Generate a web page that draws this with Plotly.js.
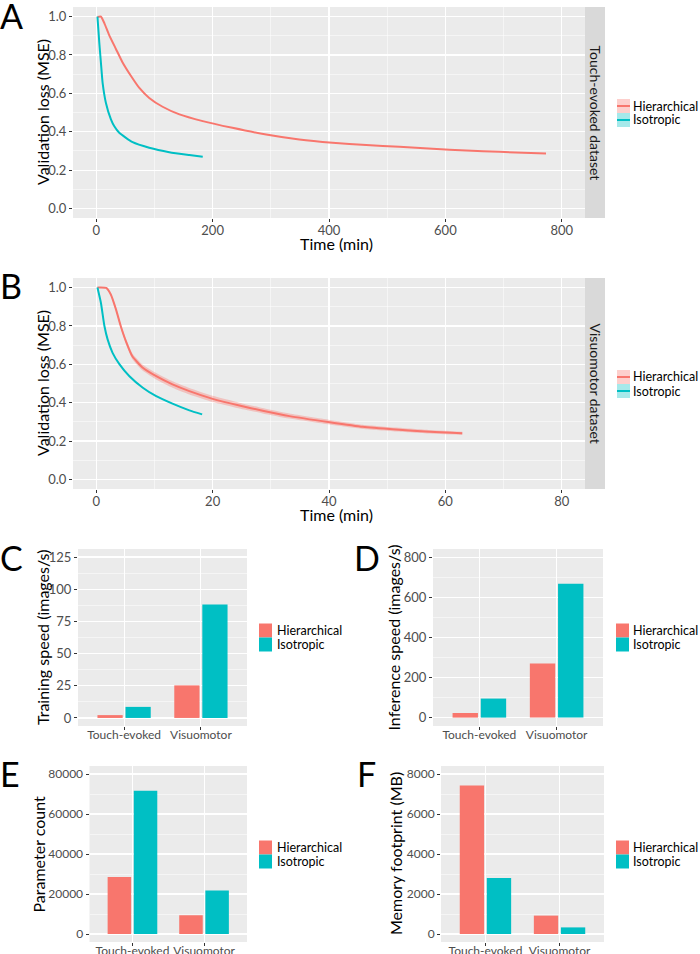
<!DOCTYPE html>
<html><head><meta charset="utf-8">
<script src="https://cdn.plot.ly/plotly-3.0.1.min.js"></script>
<style>html,body{margin:0;padding:0;background:#fff}#chart{width:700px;height:954px}</style>
</head><body><div id="chart"></div>
<script>
// ---------- data ----------
const seriesNames = ['Hierarchical', 'Isotropic'];
const seriesColors = ['#F8766D', '#00BFC4'];
const ribbonColors = ['rgba(248,118,109,0.35)', 'rgba(0,191,196,0.35)'];

// Panel A: touch-evoked dataset, time in minutes
const hierA_t = [2, 8, 14, 22, 34, 45, 60, 74, 91, 114, 143, 183, 234, 292, 349, 406, 464, 521, 578, 636, 693, 773];
const hierA_v = [0.998, 1.0, 0.965, 0.905, 0.83, 0.762, 0.689, 0.628, 0.576, 0.53, 0.49, 0.455, 0.42, 0.385, 0.359, 0.342, 0.33, 0.321, 0.311, 0.302, 0.295, 0.286];
const isoA_t = [2, 5.2, 8, 10.9, 16.6, 25.2, 31, 39.5, 62.5, 91, 125.5, 160, 183];
const isoA_v = [1.0, 0.863, 0.759, 0.655, 0.55, 0.464, 0.428, 0.394, 0.345, 0.316, 0.293, 0.278, 0.269];

// Panel B: visuomotor dataset
const hierB_t = [0.2, 1.7, 2.5, 3.4, 4.2, 5.1, 6.2, 8.0, 10.3, 13.1, 16.0, 20, 24.6, 28.6, 33.2, 40.1, 45.8, 51.5, 57.3, 62.9];
const hierB_v = [1.0, 0.998, 0.964, 0.885, 0.80, 0.72, 0.642, 0.582, 0.538, 0.495, 0.46, 0.42, 0.385, 0.358, 0.33, 0.298, 0.274, 0.26, 0.248, 0.24];
const hierB_sd = [0.002, 0.003, 0.006, 0.009, 0.011, 0.013, 0.015, 0.016, 0.017, 0.017, 0.017, 0.016, 0.015, 0.014, 0.013, 0.012, 0.011, 0.01, 0.009, 0.008];
const isoB_t = [0.2, 0.8, 1.4, 1.95, 2.8, 4.0, 5.7, 8.0, 10.3, 13.1, 16, 18.2];
const isoB_v = [1.0, 0.92, 0.80, 0.73, 0.66, 0.60, 0.538, 0.478, 0.434, 0.395, 0.36, 0.339];

// Bar panels
const datasets = ['Touch-evoked', 'Visuomotor'];
const trainSpeed_hier = [2.2, 25.3];
const trainSpeed_iso = [8.6, 88.2];
const inferSpeed_hier = [23, 270];
const inferSpeed_iso = [95, 669];
const paramCount_hier = [28500, 9400];
const paramCount_iso = [71600, 21800];
const memory_hier = [7430, 920];
const memory_iso = [2800, 330];

const stripLabels = ['Touch-evoked dataset', 'Visuomotor dataset'];
const panelLetters = ['A', 'B', 'C', 'D', 'E', 'F'];
const xTitles = ['Time (min)', 'Time (min)'];
const yTitles = ['Validation loss (MSE)', 'Validation loss (MSE)', 'Training speed (images/s)',
  'Inference speed (images/s)', 'Parameter count', 'Memory footprint (MB)'];

// ---------- helpers ----------
const W = 700, H = 954;
const X = px => px / W;
const Y = py => 1 - py / H;
const FONT = 'Lato';

function axis(extra) {
  return Object.assign({
    showgrid: true, gridcolor: '#ffffff', gridwidth: 1.1,
    zeroline: false, showline: false,
    ticks: 'outside', ticklen: 3, tickwidth: 1, tickcolor: '#333333',
    tickfont: {family: FONT, size: 13, color: '#4d4d4d'},
    fixedrange: true
  }, extra);
}
function minor(d) {
  return {dtick: d, showgrid: true, gridcolor: '#ffffff', gridwidth: 0.5, ticks: ''};
}
const smallTick = {family: FONT, size: 12, color: '#4d4d4d'};

const traces = [];
function lineTrace(t, v, i, xa, ya) {
  traces.push({type: 'scatter', mode: 'lines', x: t, y: v, xaxis: xa, yaxis: ya,
    line: {color: seriesColors[i], width: 2, shape: 'spline', smoothing: 0.5},
    name: seriesNames[i], showlegend: false, hoverinfo: 'skip'});
}
// ribbon B hierarchical
traces.push({type: 'scatter', mode: 'lines', x: hierB_t, y: hierB_v.map((v, k) => v + hierB_sd[k]),
  xaxis: 'x2', yaxis: 'y2', line: {width: 0, shape: 'spline', smoothing: 0.5}, showlegend: false, hoverinfo: 'skip'});
traces.push({type: 'scatter', mode: 'lines', x: hierB_t, y: hierB_v.map((v, k) => v - hierB_sd[k]),
  xaxis: 'x2', yaxis: 'y2', line: {width: 0, shape: 'spline', smoothing: 0.5}, fill: 'tonexty',
  fillcolor: ribbonColors[0], showlegend: false, hoverinfo: 'skip'});

lineTrace(hierA_t, hierA_v, 0, 'x', 'y');
lineTrace(isoA_t, isoA_v, 1, 'x', 'y');
lineTrace(hierB_t, hierB_v, 0, 'x2', 'y2');
lineTrace(isoB_t, isoB_v, 1, 'x2', 'y2');

function barPair(h, s, xa, ya) {
  [h, s].forEach((vals, i) => traces.push({type: 'bar', x: datasets, y: vals, xaxis: xa, yaxis: ya,
    marker: {color: seriesColors[i], line: {width: 0}}, name: seriesNames[i], showlegend: false, hoverinfo: 'skip'}));
}
barPair(trainSpeed_hier, trainSpeed_iso, 'x3', 'y3');
barPair(inferSpeed_hier, inferSpeed_iso, 'x4', 'y4');
barPair(paramCount_hier, paramCount_iso, 'x5', 'y5');
barPair(memory_hier, memory_iso, 'x6', 'y6');

// ---------- layout ----------
const dA = [Y(218), Y(7)], dB = [Y(489), Y(278)], dCD = [Y(726), Y(549)], dEF = [Y(942), Y(766)];
const cat = {type: 'category', range: [-0.6, 1.6], tickangle: 0, ticklabelstandoff: -5, tickfont: smallTick};
const layout = {
  width: W, height: H, margin: {l: 0, r: 0, t: 0, b: 0},
  paper_bgcolor: '#ffffff', plot_bgcolor: '#ebebeb',
  font: {family: FONT}, showlegend: false,
  barmode: 'group', bargap: 0.27, bargroupgap: 0.1,
  xaxis: axis({domain: [X(73), X(585)], anchor: 'y', range: [-40, 840], dtick: 200, tick0: 0, minor: minor(100), ticklabelstandoff: -3}),
  yaxis: axis({domain: dA, anchor: 'x', range: [-0.05, 1.05], dtick: 0.2, tick0: 0, tickformat: '.1f', minor: minor(0.1)}),
  xaxis2: axis({domain: [X(73), X(585)], anchor: 'y2', range: [-4, 84], dtick: 20, tick0: 0, minor: minor(10), ticklabelstandoff: -3}),
  yaxis2: axis({domain: dB, anchor: 'x2', range: [-0.05, 1.05], dtick: 0.2, tick0: 0, tickformat: '.1f', minor: minor(0.1)}),
  xaxis3: axis(Object.assign({domain: [X(78), X(247)], anchor: 'y3'}, cat)),
  yaxis3: axis({domain: dCD, anchor: 'x3', range: [-6.25, 131.25], dtick: 25, tick0: 0, minor: minor(12.5)}),
  xaxis4: axis(Object.assign({domain: [X(433), X(603)], anchor: 'y4'}, cat)),
  yaxis4: axis({domain: dCD, anchor: 'x4', range: [-42, 842], dtick: 200, tick0: 0, minor: minor(100)}),
  xaxis5: axis(Object.assign({domain: [X(89.5), X(247)], anchor: 'y5'}, cat)),
  yaxis5: axis({domain: dEF, anchor: 'x5', range: [-4000, 84000], dtick: 20000, tick0: 0, tickformat: 'd', minor: minor(10000), tickfont: smallTick}),
  xaxis6: axis(Object.assign({domain: [X(441), X(604)], anchor: 'y6'}, cat)),
  yaxis6: axis({domain: dEF, anchor: 'x6', range: [-400, 8400], dtick: 2000, tick0: 0, tickformat: 'd', minor: minor(1000), tickfont: smallTick}),
  shapes: [], annotations: []
};

// axis titles
const titleFont = {family: FONT, size: 16, color: '#000000'};
const yTitlePos = [[42.5, 112.5], [42.5, 383.5], [42.5, 637.5], [393, 637.5], [37.5, 854], [395, 854]];
yTitles.forEach((t, i) => layout.annotations.push({xref: 'paper', yref: 'paper', x: X(yTitlePos[i][0]), y: Y(yTitlePos[i][1]),
  text: t, textangle: -90, showarrow: false, xanchor: 'center', yanchor: 'middle', borderpad: 0, font: titleFont}));
const xTitlePos = [[336, 243], [336, 514]];
xTitles.forEach((t, i) => layout.annotations.push({xref: 'paper', yref: 'paper', x: X(xTitlePos[i][0]), y: Y(xTitlePos[i][1]),
  text: t, showarrow: false, xanchor: 'center', yanchor: 'middle', borderpad: 0, font: titleFont}));

// facet strips
[[dA, stripLabels[0]], [dB, stripLabels[1]]].forEach(([d, label]) => {
  layout.shapes.push({type: 'rect', xref: 'paper', yref: 'paper', x0: X(585), x1: X(605), y0: d[0], y1: d[1],
    fillcolor: '#d9d9d9', line: {width: 0}, layer: 'below'});
  layout.annotations.push({xref: 'paper', yref: 'paper', x: X(595), y: (d[0] + d[1]) / 2, text: label,
    textangle: 90, showarrow: false, xanchor: 'center', yanchor: 'middle',
    font: {family: FONT, size: 14, color: '#1a1a1a'}});
});

// panel letters
const letterPos = [[11, 16], [11, 285], [11, 557], [367, 557], [10, 773], [366, 773]];
panelLetters.forEach((L, i) => layout.annotations.push({xref: 'paper', yref: 'paper', x: X(letterPos[i][0]), y: Y(letterPos[i][1]),
  text: L, showarrow: false, xanchor: 'center', yanchor: 'middle', font: {family: FONT, size: 34, color: '#000000'}}));

// legends (ggplot style)
function legend(kx, ty, textX, withLine) {
  const kw = 13, kh = 14;
  seriesNames.forEach((name, i) => {
    const y0 = ty + i * kh, y1 = y0 + kh, yc = (y0 + y1) / 2;
    layout.shapes.push({type: 'rect', xref: 'paper', yref: 'paper', x0: X(kx), x1: X(kx + kw), y0: Y(y1), y1: Y(y0),
      fillcolor: withLine ? ribbonColors[i] : seriesColors[i], line: {width: 0}});
    if (withLine) layout.shapes.push({type: 'line', xref: 'paper', yref: 'paper', x0: X(kx), x1: X(kx + kw), y0: Y(yc), y1: Y(yc),
      line: {color: seriesColors[i], width: 2}});
    layout.annotations.push({xref: 'paper', yref: 'paper', x: X(textX), y: Y(yc), text: name, showarrow: false,
      xanchor: 'left', yanchor: 'middle', borderpad: 0, font: {family: FONT, size: 12.5, color: '#000000'}});
  });
}
legend(617, 99, 632, true);
legend(617, 370, 632, true);
legend(259, 623.5, 276, false);
legend(616, 623.5, 632, false);
legend(259, 840.5, 276, false);
legend(616, 840.5, 632, false);

Plotly.newPlot('chart', traces, layout, {displayModeBar: false, staticPlot: true});
</script></body></html>
